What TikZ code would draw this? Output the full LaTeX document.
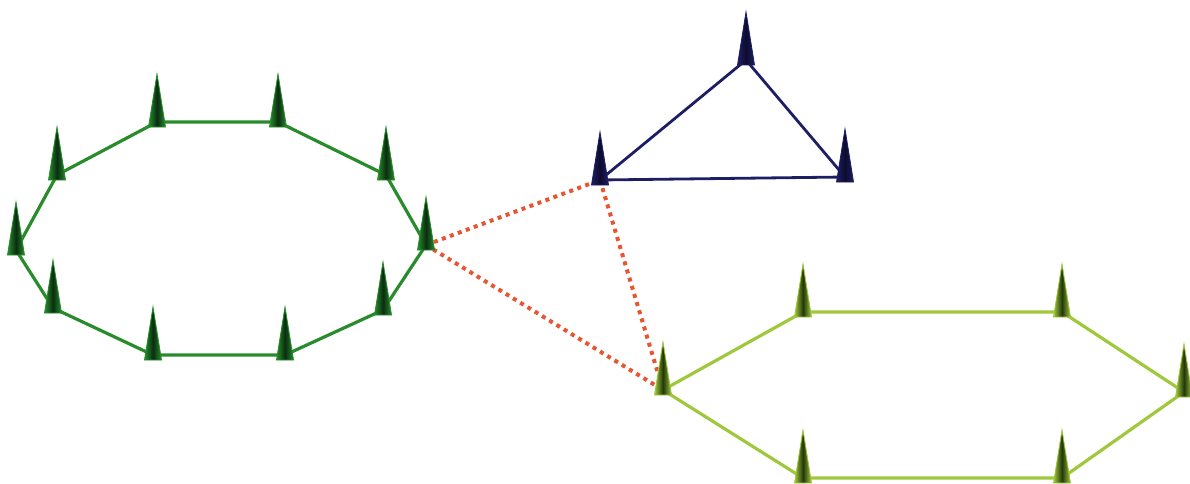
\documentclass[tikz,border=0pt]{standalone}
\begin{document}
\begin{tikzpicture}[x=1pt,y=-1pt,
  ring/.style={line width=3.2pt, line join=round},
  link/.style={line width=4pt, color=linkred, dash pattern=on 4pt off 4.5pt},
  spike/.pic={\path[pic actions] (-8.5,5) -- (0,-48) -- (8.5,5) -- cycle;}
]
\definecolor{dgreen}{RGB}{40,140,45}
\definecolor{dgreendark}{RGB}{10,45,15}
\definecolor{navy}{RGB}{30,30,100}
\definecolor{navydark}{RGB}{12,12,45}
\definecolor{lgreen}{RGB}{160,200,60}
\definecolor{lgreendark}{RGB}{35,55,10}
\definecolor{linkred}{RGB}{232,85,50}
\useasboundingbox (0,0) rectangle (1190,484);
% decagon
\coordinate (a1) at (157,122);
\coordinate (a2) at (278,122);
\coordinate (a3) at (386,175);
\coordinate (a4) at (426,245);
\coordinate (a5) at (383,310);
\coordinate (a6) at (285,355);
\coordinate (a7) at (153,355);
\coordinate (a8) at (53,308);
\coordinate (a9) at (16,250);
\coordinate (a10) at (57,175);
% triangle
\coordinate (t1) at (600,180);
\coordinate (t2) at (746,60);
\coordinate (t3) at (845,177);
% hexagon
\coordinate (h1) at (663,390);
\coordinate (h2) at (803,312);
\coordinate (h3) at (1062,312);
\coordinate (h4) at (1184,392);
\coordinate (h5) at (1062,478);
\coordinate (h6) at (803,478);
% links
\draw[link] (a4) -- (t1);
\draw[link] (a4) -- (h1);
\draw[link] (t1) -- (h1);
% rings
\draw[ring, dgreen] (a1) -- (a2) -- (a3) -- (a4) -- (a5) -- (a6) -- (a7) -- (a8) -- (a9) -- (a10) -- cycle;
\draw[ring, navy, line width=2.8pt] (t1) -- (t2) -- (t3) -- cycle;
\draw[ring, lgreen] (h1) -- (h2) -- (h3) -- (h4) -- (h5) -- (h6) -- cycle;
% spikes
\foreach \p in {a1,a2,a3,a4,a5,a6,a7,a8,a9,a10}
  \pic[draw=dgreen, line width=0.8pt, left color=dgreen, right color=dgreen, middle color=dgreendark] at (\p) {spike};
\foreach \p in {t1,t2,t3}
  \pic[draw=navy, line width=0.8pt, left color=navy, right color=navy, middle color=navydark] at (\p) {spike};
\foreach \p in {h1,h2,h3,h4,h5,h6}
  \pic[draw=lgreen, line width=0.8pt, left color=lgreen, right color=lgreen, middle color=lgreendark] at (\p) {spike};
\end{tikzpicture}
\end{document}
